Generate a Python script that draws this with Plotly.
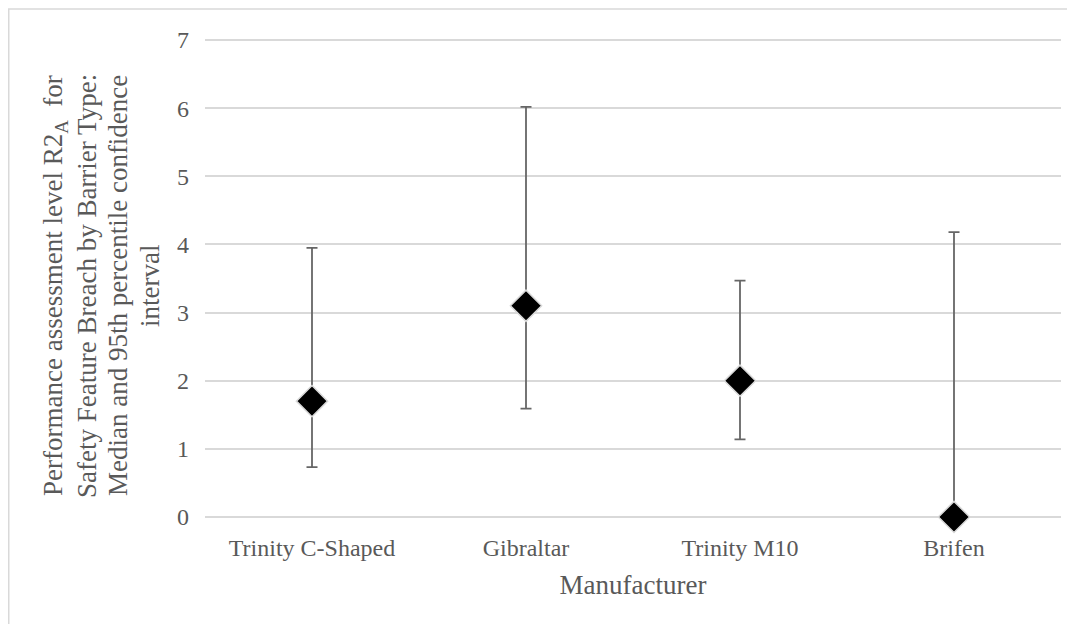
import plotly.graph_objects as go

manufacturers = ["Trinity C-Shaped", "Gibraltar", "Trinity M10", "Brifen"]
median = [1.70, 3.10, 2.00, 0.00]
upper = [3.95, 6.02, 3.47, 4.18]
lower = [0.73, 1.59, 1.14, 0.00]

err_plus = [u - m for u, m in zip(upper, median)]
err_minus = [m - l for m, l in zip(median, lower)]

# the page body adds an 8px offset, so the figure is sized to the remaining area
OFF = 8
W, H = 1075 - OFF, 624 - OFF
L, R, T, B = 197, 14, 30, 105
pw, ph = W - L - R, H - T - B

font_family = "Liberation Serif, Times New Roman, serif"
txt_color = "#595959"

fig = go.Figure()
fig.add_trace(go.Scatter(
    x=manufacturers, y=median, mode="markers",
    marker=dict(symbol="diamond", size=24, color="black",
                line=dict(color="#d9d9d9", width=1.5)),
    error_y=dict(type="data", symmetric=False, array=err_plus, arrayminus=err_minus,
                 color="#666666", thickness=1.8, width=5.5),
    cliponaxis=False, showlegend=False,
))

def px_x(p):  # screen pixel -> paper
    return (p - OFF - L) / pw

def px_y(p):
    return (H - B - (p - OFF)) / ph

title_lines = [
    "Performance assessment level R2<sub>A</sub>  for",
    "Safety Feature Breach by Barrier Type:",
    "Median and 95th percentile confidence",
    "interval",
]
line_x = [55, 87, 118, 150]

annotations = [dict(text=t, xref="paper", yref="paper", x=px_x(xp), y=px_y(286),
                    xanchor="center", yanchor="middle", textangle=-90, showarrow=False,
                    font=dict(size=27, color=txt_color, family=font_family))
               for t, xp in zip(title_lines, line_x)]

fig.update_layout(
    width=W, height=H,
    margin=dict(l=L, r=R, t=T, b=B),
    paper_bgcolor="white", plot_bgcolor="white",
    font=dict(family=font_family, color=txt_color, size=24),
    xaxis=dict(range=[-0.5, 3.5], showgrid=False, zeroline=False, showline=False,
               ticks="", ticklabelstandoff=12, tickfont=dict(size=24, color=txt_color),
               title=dict(text="Manufacturer", font=dict(size=27, color=txt_color), standoff=15)),
    yaxis=dict(range=[-0.03, 7.03], tickvals=[0, 1, 2, 3, 4, 5, 6, 7],
               showgrid=True, gridcolor="#d9d9d9", gridwidth=1.5,
               zeroline=False, showline=False, ticks="", ticklabelstandoff=15,
               tickfont=dict(size=24, color=txt_color)),
    shapes=[dict(type="rect", xref="paper", yref="paper",
                 x0=px_x(8.75), x1=px_x(1100), y0=px_y(650), y1=px_y(9),
                 line=dict(color="#d9d9d9", width=1.5), fillcolor="rgba(0,0,0,0)", layer="below")],
    annotations=annotations,
)

fig.write_html("out.html")
